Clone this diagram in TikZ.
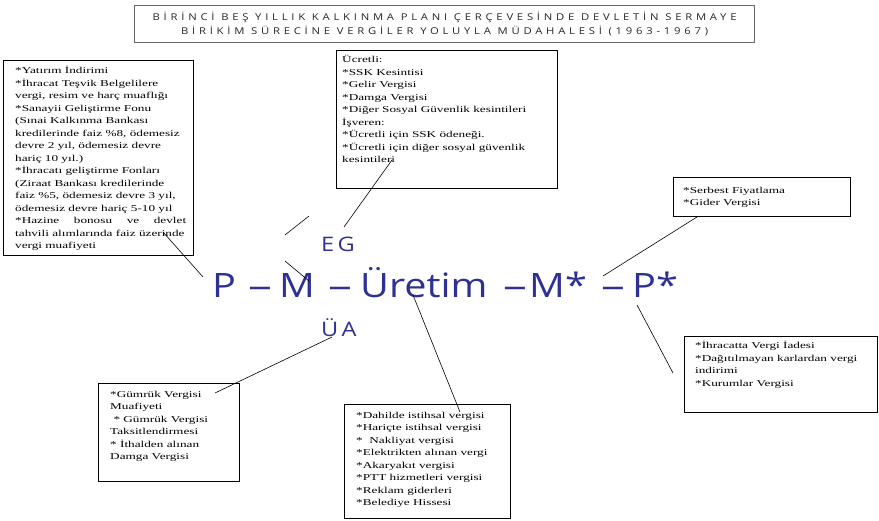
\documentclass[tikz,border=0pt]{standalone}
\usepackage{fontspec}
\usepackage{graphicx}
\setmainfont{Liberation Serif}
\newfontfamily\boxfont[FakeStretch=1.47]{Liberation Serif}
\newfontfamily\formfont[FakeStretch=1.18]{Open Sans}
\newfontfamily\titlefont[FakeStretch=1.2,LetterSpace=40]{Open Sans}
\usepackage{tikz}
\usetikzlibrary{calc,positioning}
\definecolor{formblue}{RGB}{46,49,146}
\newcommand\fdash{\scalebox{1.2}[1]{–}}
\tikzset{
  tbox/.style={draw, line width=0.8pt, anchor=north west, inner sep=0pt},
  btext/.style={anchor=north west, inner sep=0pt, align=left, font=\boxfont\fontsize{9}{12.5}\selectfont},
  form/.style={anchor=base west, inner sep=0pt, text=formblue, font=\formfont\fontsize{33.6}{40}\selectfont},
  subform/.style={form, font=\formfont\fontsize{20}{24}\selectfont},
  conn/.style={line width=0.6pt}
}
\begin{document}
\begin{tikzpicture}[x=1pt,y=-1pt]
\useasboundingbox (0,0) rectangle (879,521);
% title
\node[draw=black!60, line width=1.2pt, anchor=north west, minimum width=620pt, minimum height=37pt,
  align=center, text=black!85, font=\titlefont\fontsize{9.4}{14}\selectfont] (title) at (134,5)
  {BİRİNCİ BEŞ YILLIK KALKINMA PLANI ÇERÇEVESİNDE DEVLETİN SERMAYE\\
   BİRİKİM SÜRECİNE VERGİLER YOLUYLA MÜDAHALESİ (1963-1967)};
% formula
\node[form] (p1) at (212,298) {P};
\node[form] (d1) at (248,298) {\fdash};
\node[form] (m1) at (279,298) {M};
\node[form] (d2) at (328,298) {\fdash};
\node[form] (uretim) at (360,298) {Üretim};
\node[form] (d3) at (503,298) {\fdash};
\node[form] (m2) at (529,298) {M*};
\node[form] (d4) at (601,298) {\fdash};
\node[form] (p2) at (632,298) {P*};
\node[subform] (eg) at (321,252) {E\,G};
\node[subform] (ua) at (321,337) {Ü\,A};
% boxes
\node[tbox, minimum width=190pt, minimum height=195pt] (yatirim) at (3,60) {};
\node[btext] (yatirim-t) at (15,66) {*Yatırım İndirimi\\
*İhracat Teşvik Belgelilere\\
vergi, resim ve harç muaflığı\\
*Sanayii Geliştirme Fonu\\
(Sınai Kalkınma Bankası\\
kredilerinde faiz \%8, ödemesiz\\
devre 2 yıl, ödemesiz devre\\
hariç 10 yıl.)\\
*İhracatı geliştirme Fonları\\
(Ziraat Bankası kredilerinde\\
faiz \%5, ödemesiz devre 3 yıl,\\
ödemesiz devre hariç 5-10 yıl\\
\makebox[171pt][s]{*Hazine bonosu ve devlet}\\
tahvili alımlarında faiz üzerinde\\
vergi muafiyeti};
\node[tbox, minimum width=221pt, minimum height=138pt] (ucretli) at (336,50) {};
\node[btext] (ucretli-t) at (342,55.5) {Ücretli:\\
*SSK Kesintisi\\
*Gelir Vergisi\\
*Damga Vergisi\\
*Diğer Sosyal Güvenlik kesintileri\\
İşveren:\\
*Ücretli için SSK ödeneği.\\
*Ücretli için diğer sosyal güvenlik\\
kesintileri};
\node[tbox, minimum width=177pt, minimum height=39pt] (serbest) at (673,177) {};
\node[btext] (serbest-t) at (683,187) {*Serbest Fiyatlama\\
*Gider Vergisi};
\node[tbox, minimum width=193pt, minimum height=76pt] (ihracat) at (684,336) {};
\node[btext] (ihracat-t) at (695,341) {*İhracatta Vergi İadesi\\
*Dağıtılmayan karlardan vergi\\
indirimi\\
*Kurumlar Vergisi};
\node[tbox, minimum width=141pt, minimum height=98pt] (gumruk) at (98,383) {};
\node[btext] (gumruk-t) at (110,391) {*Gümrük Vergisi\\
Muafiyeti\\
\ * Gümrük Vergisi\\
Taksitlendirmesi\\
* İthalden alınan\\
Damga Vergisi};
\node[tbox, minimum width=166pt, minimum height=114pt] (dahilde) at (344,404) {};
\node[btext] (dahilde-t) at (356,412) {*Dahilde istihsal vergisi\\
*Hariçte istihsal vergisi\\
* \ Nakliyat vergisi\\
*Elektrikten alınan vergi\\
*Akaryakıt vergisi\\
*PTT hizmetleri vergisi\\
*Reklam giderleri\\
*Belediye Hissesi};
% connectors
\coordinate (yatirim-end) at (163,232);
\coordinate (p1-end) at (203,277);
\coordinate (s1a) at (285,235);
\coordinate (s1b) at (309,216);
\coordinate (s2a) at (285,261);
\coordinate (s2b) at (309,281);
\coordinate (ucretli-end) at (392,160);
\coordinate (eg-end) at (344,227);
\coordinate (serbest-end) at (697,217);
\coordinate (m2-end) at (603,276);
\coordinate (uretim-end) at (413,295);
\coordinate (dahilde-end) at (460,412);
\coordinate (p2-end) at (637,305);
\coordinate (ihracat-end) at (673,373);
\coordinate (ua-end) at (332,337);
\coordinate (gumruk-end) at (215,393);
\draw[conn] (yatirim-end) -- (p1-end);
\draw[conn] (s1a) -- (s1b);
\draw[conn] (s2a) -- (s2b);
\draw[conn] (ucretli-end) -- (eg-end);
\draw[conn] (serbest-end) -- (m2-end);
\draw[conn] (uretim-end) -- (dahilde-end);
\draw[conn] (p2-end) -- (ihracat-end);
\draw[conn] (ua-end) -- (gumruk-end);
\end{tikzpicture}
\end{document}
